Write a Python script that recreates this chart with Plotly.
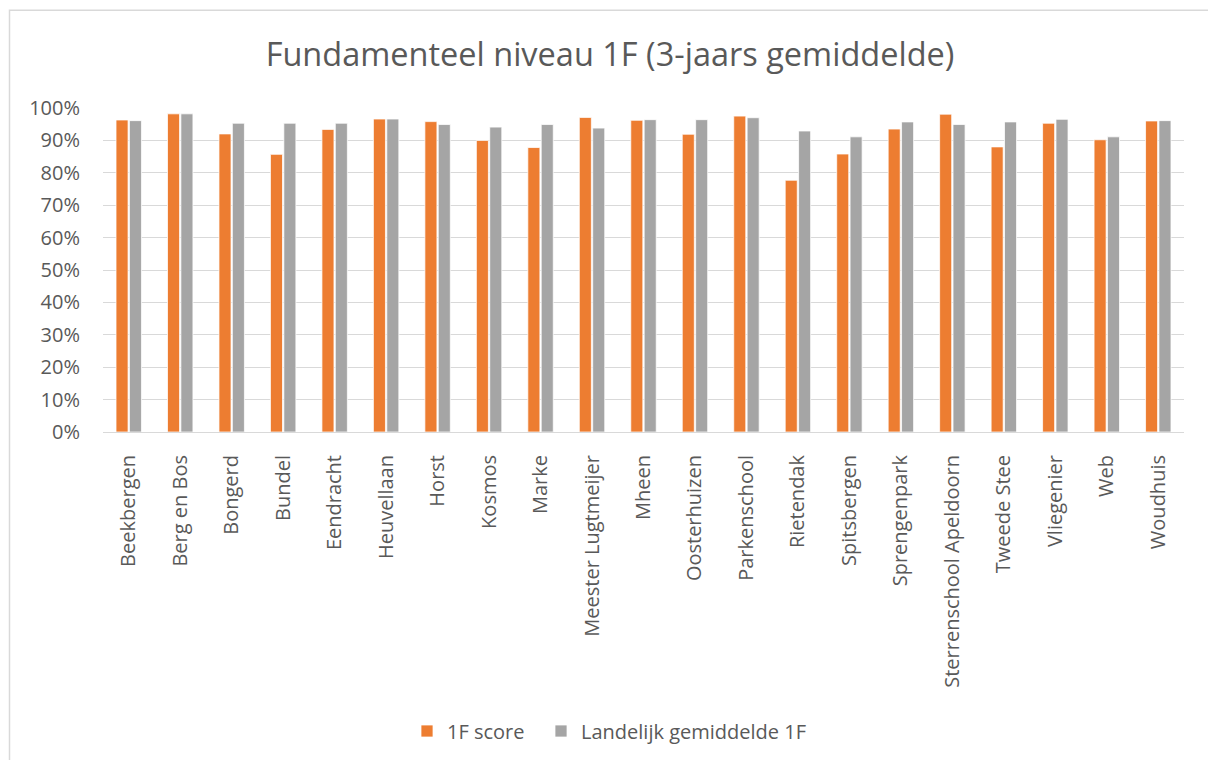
import plotly.graph_objects as go

categories = ["Beekbergen", "Berg en Bos", "Bongerd", "Bundel", "Eendracht", "Heuvellaan",
              "Horst", "Kosmos", "Marke", "Meester Lugtmeijer", "Mheen", "Oosterhuizen",
              "Parkenschool", "Rietendak", "Spitsbergen", "Sprengenpark",
              "Sterrenschool Apeldoorn", "Tweede Stee", "Vliegenier", "Web", "Woudhuis"]
score_1f = [96.3, 98.2, 92.0, 85.7, 93.4, 96.6, 95.8, 90.0, 87.8, 97.1, 96.2, 91.9,
            97.5, 77.7, 85.8, 93.5, 98.1, 88.0, 95.3, 90.2, 96.0]
landelijk_1f = [96.1, 98.2, 95.3, 95.3, 95.3, 96.6, 94.9, 94.1, 94.9, 93.8, 96.4, 96.4,
                97.0, 92.9, 91.1, 95.7, 94.9, 95.7, 96.5, 91.1, 96.1]

font_family = "Open Sans, Lato, sans-serif"
txt = "#595959"

W, H = 1208, 760
L, R, T, B = 103, 24, 107.5, 327.5
PW, PH = W - L - R, H - T - B

fig = go.Figure()
fig.add_trace(go.Bar(x=categories, y=[v / 100 for v in score_1f], name="1F score",
                     legend="legend",
                     marker=dict(color="#ED7D31", line=dict(color="white", width=0.75))))
fig.add_trace(go.Bar(x=categories, y=[v / 100 for v in landelijk_1f], name="Landelijk gemiddelde 1F",
                     legend="legend2",
                     marker=dict(color="#A5A5A5", line=dict(color="white", width=0.75))))

leg_common = dict(orientation="h", xref="container", yref="container",
                  xanchor="left", y=1 - 731 / H, yanchor="middle",
                  font=dict(size=20, color=txt), itemwidth=30)

fig.update_layout(
    width=W, height=H,
    paper_bgcolor="white", plot_bgcolor="white",
    margin=dict(l=L, r=R, t=T, b=B, autoexpand=False),
    barmode="group", bargap=0.48, bargroupgap=0.1,
    title=dict(text="Fundamenteel niveau 1F (3-jaars gemiddelde)", x=610 / W, xanchor="center",
               y=1 - 55 / H, yanchor="middle",
               font=dict(family=font_family, size=32.5, color=txt)),
    font=dict(family=font_family, color=txt),
    legend=dict(x=407 / W, **leg_common),
    legend2=dict(x=541 / W, **leg_common),
    showlegend=True,
)
fig.update_yaxes(range=[0, 1.0], dtick=0.1, tickformat=".0%", showgrid=True,
                 gridcolor="#D9D9D9", gridwidth=1, zeroline=False,
                 tickfont=dict(size=20, color=txt), ticks="", ticklabelstandoff=22)
fig.update_xaxes(tickangle=-90, tickfont=dict(size=20, color=txt), showline=True,
                 linecolor="#D9D9D9", linewidth=1, ticks="", ticklabelstandoff=14)

fig.add_shape(type="rect", xref="paper", yref="paper",
              x0=(9.5 - L) / PW, x1=(W + 10 - L) / PW,
              y0=(H - B - (H + 10)) / PH, y1=(H - B - 9.5) / PH,
              line=dict(color="#D9D9D9", width=1.5), fillcolor="rgba(0,0,0,0)", layer="below")

fig.write_html("out.html", config={"displayModeBar": False},
               post_script="document.body.style.margin='0';document.body.style.overflow='hidden';")
